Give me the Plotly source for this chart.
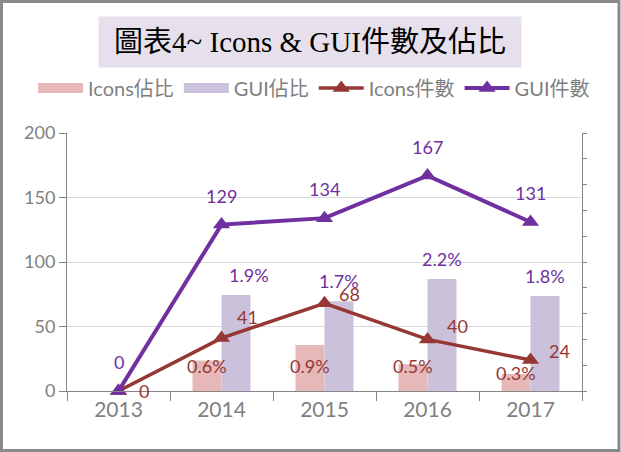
import plotly.graph_objects as go

years = ["2013", "2014", "2015", "2016", "2017"]
icons_count = [0, 41, 68, 40, 24]
gui_count = [0, 129, 134, 167, 131]
icons_pct = [0.0, 0.0059, 0.0089, 0.0052, 0.0033]
gui_pct = [0.0, 0.0186, 0.0174, 0.0217, 0.0184]

title_text = "圖表4~ Icons & GUI件數及佔比"

# pixel geometry of the plot box in the 621x452 page
W, H = 621, 452
L, R, T, B = 67, 582, 133, 391


def px(x):
    return (x - L) / (R - L)


def py(y):
    return (B - y) / (B - T)


sans = "Lato, Noto Sans CJK TC, sans-serif"
gray = "#7F7F7F"
axis_gray = "#868686"
red = "#953735"
purple = "#7030A0"
pink = "#E6B9B8"
lav = "#CCC1DA"

fig = go.Figure()

fig.add_trace(go.Bar(
    x=years, y=icons_pct, name="Icons佔比",
    marker=dict(color=pink, line=dict(width=0)),
    yaxis="y", showlegend=False,
))
fig.add_trace(go.Bar(
    x=years, y=gui_pct, name="GUI佔比",
    marker=dict(color=lav, line=dict(width=0)),
    yaxis="y", showlegend=False,
))
# wide legend swatches for the bars
for name, col in [("Icons佔比", pink), ("GUI佔比", lav)]:
    fig.add_trace(go.Scatter(
        x=[None], y=[None], name=name, mode="lines",
        line=dict(color=col, width=14), yaxis="y",
    ))
fig.add_trace(go.Scatter(
    x=years, y=icons_count, name="Icons件數", mode="lines+markers",
    line=dict(color=red, width=3.5),
    marker=dict(symbol="triangle-up", size=15, color=red),
    yaxis="y2", cliponaxis=False,
))
fig.add_trace(go.Scatter(
    x=years, y=gui_count, name="GUI件數", mode="lines+markers",
    line=dict(color=purple, width=4),
    marker=dict(symbol="triangle-up", size=15, color=purple),
    yaxis="y2", cliponaxis=False,
))

annotations = []
# title box
annotations.append(dict(
    text=title_text, xref="paper", yref="paper",
    x=px(310), y=py(41.5), xanchor="center", yanchor="middle",
    showarrow=False, bgcolor="#E6E0EC", width=422, height=50, borderpad=0,
    font=dict(family="Liberation Serif, Noto Sans CJK TC, serif", size=29, color="black"),
))
# icons share labels, sitting near the bar base
icons_dy = [0, 12, 12, 12, 5]
for i, (v, dy) in enumerate(zip(icons_pct, icons_dy)):
    if v > 0:
        annotations.append(dict(
            text=f"{v*100:.1f}%", x=i, y=0, xref="x", yref="y",
            xanchor="center", yanchor="bottom", xshift=-14.5, yshift=dy,
            showarrow=False, font=dict(color=red, size=18, family=sans),
        ))
# GUI share labels above the bars
gui_dx = [0, 13, 0, 0, 0]
for i, (v, dx) in enumerate(zip(gui_pct, gui_dx)):
    if v > 0:
        annotations.append(dict(
            text=f"{v*100:.1f}%", x=i, y=v, xref="x", yref="y",
            xanchor="center", yanchor="middle", xshift=14.5 + dx, yshift=20,
            showarrow=False, font=dict(color=purple, size=18, family=sans),
        ))
# GUI count labels above points
for i, v in enumerate(gui_count):
    annotations.append(dict(
        text=str(v), x=i, y=v, xref="x", yref="y2",
        yshift=29, showarrow=False,
        font=dict(color=purple, size=18, family=sans),
    ))
# Icons count labels to the right of points
icon_dx = [25, 26, 25, 30, 29]
icon_dy = [0, 21, 9, 13, 9]
for i, (v, dx, dy) in enumerate(zip(icons_count, icon_dx, icon_dy)):
    annotations.append(dict(
        text=str(v), x=i, y=v, xref="x", yref="y2",
        xshift=dx, yshift=dy, showarrow=False,
        font=dict(color=red, size=18, family=sans),
    ))

fig.update_layout(
    width=W, height=H,
    margin=dict(l=L, r=W - R, t=T, b=H - B, pad=0),
    paper_bgcolor="white", plot_bgcolor="white",
    barmode="group", bargap=0.437, bargroupgap=0,
    font=dict(family=sans, color=gray),
    showlegend=True,
    legend=dict(
        orientation="h", x=px(33), y=py(88), xanchor="left", yanchor="middle",
        font=dict(size=20, color=gray, family=sans),
        itemwidth=45, tracegroupgap=0, bgcolor="rgba(0,0,0,0)",
    ),
    xaxis=dict(
        type="category", range=[-0.5, len(years) - 0.5], autorange=False,
        showline=True, linecolor=axis_gray, linewidth=1,
        ticks="outside", tickson="boundaries", ticklen=9, tickcolor=axis_gray,
        tickfont=dict(size=21, color=gray), showgrid=False, automargin=False,
    ),
    yaxis=dict(
        side="right", range=[0, 0.05], dtick=0.005, autorange=False,
        showticklabels=False, showgrid=False, zeroline=False,
        showline=True, linecolor=axis_gray, ticks="outside", ticklen=4,
        tickcolor=axis_gray, automargin=False,
    ),
    yaxis2=dict(
        overlaying="y", side="left", range=[0, 200], dtick=50, autorange=False,
        showgrid=True, gridcolor="#D9D9D9", zeroline=False,
        showline=True, linecolor=axis_gray, ticks="outside", ticklen=7,
        tickcolor=axis_gray, tickfont=dict(size=18, color=gray), automargin=False,
    ),
    annotations=annotations,
    shapes=[dict(
        type="rect", xref="paper", yref="paper",
        x0=px(1.5), x1=px(W - 2), y0=py(H - 1.5), y1=py(1.5),
        line=dict(color="#8A8A8A", width=3), layer="above",
    )],
)

fig.write_html("out.html", config={"displayModeBar": False},
               post_script="document.body.style.margin='0';")
